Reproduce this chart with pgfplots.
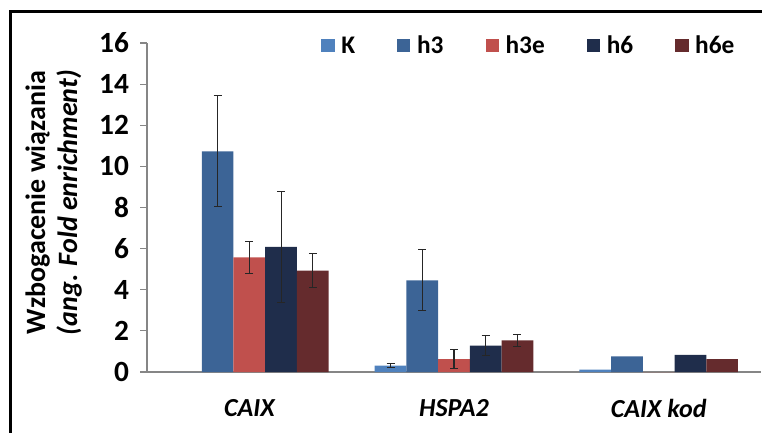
\documentclass[border=0pt]{standalone}
\usepackage{pgfplots}
\pgfplotsset{compat=1.18}
\usepackage{pgfplotstable}
\usepackage{fontspec}
\setmainfont{Carlito}
\definecolor{cK}{HTML}{4F81BD}
\definecolor{cH3}{HTML}{3C6496}
\definecolor{cH3e}{HTML}{C0504D}
\definecolor{cH6}{HTML}{1F2D4B}
\definecolor{cH6e}{HTML}{652B2D}
\definecolor{axgray}{HTML}{868686}

% x: 0 = CAIX, 1 = HSPA2, 2 = CAIX kod
\pgfplotstableread{
x y e
0 0 0
1 0.31 0.09
2 0.11 0
}\tK
\pgfplotstableread{
x y e
0 10.73 2.70
1 4.46 1.48
2 0.76 0
}\tHthree
\pgfplotstableread{
x y e
0 5.57 0.78
1 0.63 0.47
2 0 0
}\tHthreeE
\pgfplotstableread{
x y e
0 6.09 2.70
1 1.28 0.48
2 0.83 0
}\tHsix
\pgfplotstableread{
x y e
0 4.93 0.82
1 1.54 0.30
2 0.63 0
}\tHsixE
% error bars (only groups that have them)
\pgfplotstableread{
x y e
1 0.31 0.09
}\eK
\pgfplotstableread{
x y e
0 10.73 2.70
1 4.46 1.48
}\eHthree
\pgfplotstableread{
x y e
0 5.57 0.78
1 0.63 0.47
}\eHthreeE
\pgfplotstableread{
x y e
0 6.09 2.70
1 1.28 0.48
}\eHsix
\pgfplotstableread{
x y e
0 4.93 0.82
1 1.54 0.30
}\eHsixE

\begin{document}
\begin{tikzpicture}
\useasboundingbox (0,0) rectangle (571.5pt,324pt);
\draw[line width=2.25pt, black] (7.9pt,-2pt) -- (7.9pt,315.4pt) -- (573pt,315.4pt);
\begin{axis}[
  at={(110.25pt,45pt)}, anchor=south west,
  scale only axis, width=460.5pt, height=246.75pt,
  xmin=-0.5, xmax=2.5, ymin=0, ymax=16,
  axis x line=bottom, axis y line=left,
  axis line style={draw=axgray, line width=0.8pt, -},
  ytick={0,2,...,16},
  xtick={0,1,2},
  xticklabels={CAIX, HSPA2, CAIX kod},
  x tick label style={font=\fontsize{19.5}{22}\selectfont\bfseries\itshape, yshift=-12pt},
  y tick label style={font=\fontsize{22}{24}\selectfont\bfseries, xshift=-5pt},
  /pgf/number format/assume math mode=true,
  tick style={draw=axgray, line width=0.8pt},
  tick align=outside,
  major tick length=5pt,
  x tick style={draw=none},
  extra x ticks={-0.5,0.5,1.5,2.5},
  extra x tick labels={},
  extra x tick style={tick style={draw=axgray, line width=0.8pt}, major tick length=6pt},
  ylabel={Wzbogacenie wiązania\\\textit{(ang. Fold enrichment)}},
  ylabel style={font=\fontsize{21}{24}\selectfont\bfseries, align=center,
    at={(axis description cs:-0.152,0.515)}, anchor=center, rotate=0},
  legend columns=5,
  legend style={draw=none, fill=none, inner sep=0pt,
    at={(axis description cs:0.2834,0.991)}, anchor=west,
    font=\fontsize{19}{21}\selectfont\bfseries,
    nodes={inner xsep=2pt},
    /tikz/every even column/.append style={column sep=29.5pt},
    /tikz/every odd column/.append style={column sep=3pt}},
  legend image code/.code={\fill[#1] (0pt,-4.5pt) rectangle (10pt,5.5pt);},
  mybar/.style={ybar, bar width=0.155, draw=none},
  myerr/.style={draw=none, mark=none, forget plot,
    error bars/.cd, y dir=both, y explicit,
    error bar style={draw=black!85, line width=0.8pt, solid},
    error mark options={draw=black!85, line width=0.8pt, mark size=3pt, rotate=90}},
]
\addplot[mybar, bar shift=-0.31, fill=cK] table[x=x,y=y] {\tK};
\addlegendentry{K}
\addplot[mybar, bar shift=-0.155, fill=cH3] table[x=x,y=y] {\tHthree};
\addlegendentry{h3}
\addplot[mybar, bar shift=0, fill=cH3e] table[x=x,y=y] {\tHthreeE};
\addlegendentry{h3e}
\addplot[mybar, bar shift=0.155, fill=cH6] table[x=x,y=y] {\tHsix};
\addlegendentry{h6}
\addplot[mybar, bar shift=0.31, fill=cH6e] table[x=x,y=y] {\tHsixE};
\addlegendentry{h6e}

\addplot[myerr] table[x expr=\thisrow{x}-0.31, y=y, y error=e] {\eK};
\addplot[myerr] table[x expr=\thisrow{x}-0.155, y=y, y error=e] {\eHthree};
\addplot[myerr] table[x expr=\thisrow{x}, y=y, y error=e] {\eHthreeE};
\addplot[myerr] table[x expr=\thisrow{x}+0.155, y=y, y error=e] {\eHsix};
\addplot[myerr] table[x expr=\thisrow{x}+0.31, y=y, y error=e] {\eHsixE};
\end{axis}
\end{tikzpicture}
\end{document}
